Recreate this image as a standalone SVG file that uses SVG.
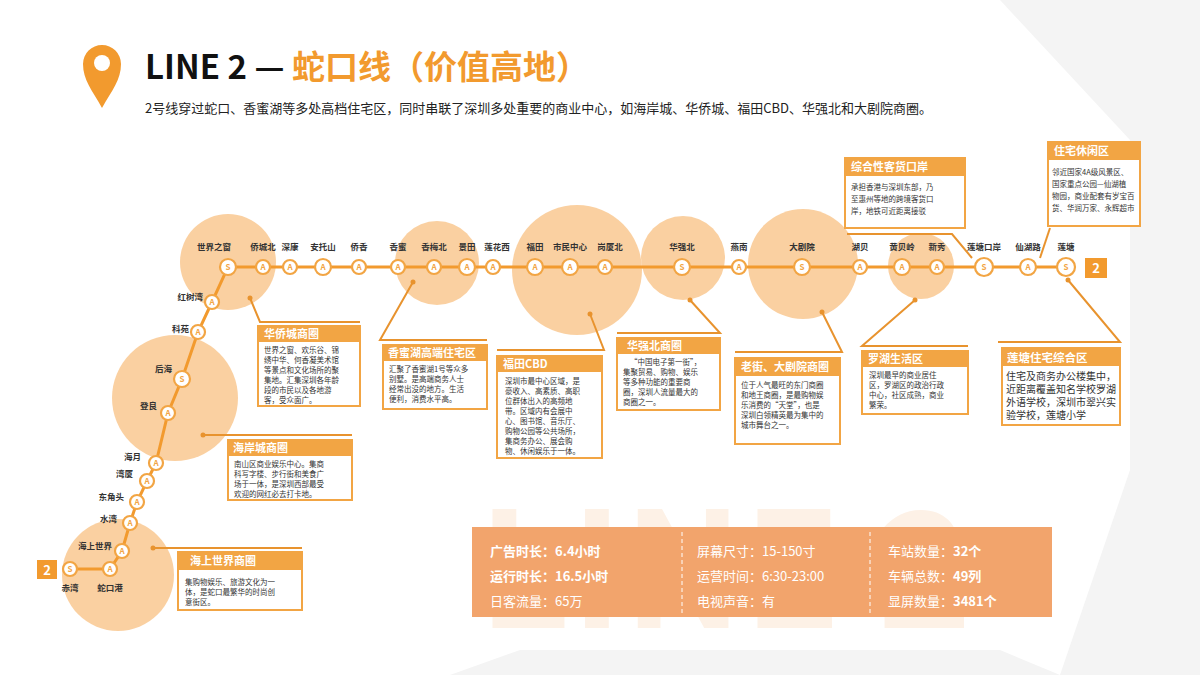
<svg xmlns="http://www.w3.org/2000/svg" width="1200" height="675" viewBox="0 0 1200 675">
<style>
text{font-family:"Noto Sans CJK SC","Liberation Sans",sans-serif}
.blob{fill:#f9c48a;opacity:.8}
.ln{stroke:#f29a2e;stroke-width:3;fill:none}
.ld{stroke:#e8932e;stroke-width:2;fill:none}
.st{fill:#fff;stroke:#f2a544;stroke-width:2.2}
.sl{font-size:8px;fill:#f2a544;font-weight:bold;text-anchor:middle}
.nm{font-size:8.5px;font-weight:bold;fill:#333;text-anchor:middle}
.nmr{font-size:8.5px;font-weight:bold;fill:#333;text-anchor:end}
.bx{fill:#fff;stroke:#f2a544;stroke-width:2}
.hd{fill:#f2a544}
.ht{font-size:11px;fill:#fff;font-weight:bold}
.bt{font-size:7.5px;fill:#333}
.sv{font-size:13px;fill:#fff}
.svb{font-size:13px;fill:#fff;font-weight:bold}
.dot{fill:#e8932e}
</style>
<rect width="1200" height="675" fill="#fff"/>
<g fill="#f4f4f4">
<polygon points="1000,0 1200,0 1200,140 1130,140"/>
<polygon points="1130,140 1200,140 1200,470 1130,470"/>
<polygon points="1130,470 1200,440 1200,675 1060,675"/>
<polygon points="450,675 520,650 1000,650 1060,675"/>
</g>
<text x="478" y="628" font-size="160" font-weight="bold" fill="#fdf1e6" font-family="Liberation Sans,sans-serif">LINE 2</text>
<g id="title">
<path d="M102,108 C92,90 83,80 83,64 A19,19 0 0 1 121,64 C121,80 112,90 102,108Z" fill="#f29a2e"/>
<circle cx="102" cy="63" r="8" fill="#fff"/>
<text x="145" y="79" font-size="33" font-weight="bold" fill="#111" font-family="Liberation Sans,sans-serif">LINE 2 — <tspan fill="#f29a2e" font-family="Noto Sans CJK SC,sans-serif">蛇口线（价值高地）</tspan></text>
<text x="145" y="113" font-size="13" fill="#222">2号线穿过蛇口、香蜜湖等多处高档住宅区，同时串联了深圳多处重要的商业中心，如海岸城、华侨城、福田CBD、华强北和大剧院商圈。</text>
</g>
<g id="blobs">
<circle class="blob" cx="228" cy="262" r="48"/>
<circle class="blob" cx="175" cy="398" r="63"/>
<circle class="blob" cx="118" cy="575" r="56"/>
<circle class="blob" cx="437" cy="263" r="42"/>
<circle class="blob" cx="577" cy="270" r="65"/>
<circle class="blob" cx="683" cy="258" r="42"/>
<circle class="blob" cx="803" cy="264" r="55"/>
<circle class="blob" cx="921" cy="266" r="33"/>
</g>
<g id="connectors">
<polyline class="ln" points="70,569 110,569 122,551 130,523 137,502 147,481 156,463 168,413 182,379 198,332 212,302 228,267 1066,267"/>
<circle class="dot" cx="250" cy="298" r="2.5"/><polyline class="ld" points="250,298 260,322 360,322"/>
<circle class="dot" cx="413" cy="282" r="2.5"/><polyline class="ld" points="413,282 380,340 487,340"/>
<circle class="dot" cx="590" cy="314" r="2.5"/><polyline class="ld" points="590,314 604,350 497,350"/>
<circle class="dot" cx="690" cy="300" r="2.5"/><polyline class="ld" points="690,300 720,333 617,333"/>
<circle class="dot" cx="822" cy="312" r="2.5"/><polyline class="ld" points="822,312 842,352 735,352"/>
<circle class="dot" cx="915" cy="300" r="2.5"/><polyline class="ld" points="915,300 862,346 968,346"/>
<circle class="dot" cx="1068" cy="280" r="2.5"/><polyline class="ld" points="1068,280 1120,342 998,342"/>
<circle class="dot" cx="203" cy="435" r="2.5"/><polyline class="ld" points="203,435 352,435"/>
<circle class="dot" cx="153" cy="548" r="2.5"/><polyline class="ld" points="153,548 302,548"/>
<polyline class="ld" points="847,234 952,234 972,258"/>
<polyline class="ld" points="1040,258 1050,228"/>
</g>
<g id="stations">
<g id="s-shijiezhichuang"><circle class="st" cx="228" cy="267" r="8"/><text class="sl" x="228" y="270">S</text><text class="nm" x="214" y="250">世界之窗</text></g>
<g id="s-qcb"><circle class="st" cx="263" cy="267" r="7"/><text class="sl" x="263" y="270">A</text><text class="nm" x="263" y="250">侨城北</text></g>
<g id="s-sk"><circle class="st" cx="290" cy="267" r="7"/><text class="sl" x="290" y="270">A</text><text class="nm" x="290" y="250">深康</text></g>
<g id="s-ats"><circle class="st" cx="323" cy="267" r="8"/><text class="sl" x="323" y="270">A</text><text class="nm" x="323" y="250">安托山</text></g>
<g id="s-qx"><circle class="st" cx="359" cy="267" r="7"/><text class="sl" x="359" y="270">A</text><text class="nm" x="359" y="250">侨香</text></g>
<g id="s-xm"><circle class="st" cx="398" cy="267" r="7"/><text class="sl" x="398" y="270">A</text><text class="nm" x="398" y="250">香蜜</text></g>
<g id="s-xmb"><circle class="st" cx="434" cy="267" r="7"/><text class="sl" x="434" y="270">A</text><text class="nm" x="434" y="250">香梅北</text></g>
<g id="s-jt"><circle class="st" cx="467" cy="267" r="8"/><text class="sl" x="467" y="270">A</text><text class="nm" x="467" y="250">景田</text></g>
<g id="s-lhx"><circle class="st" cx="493" cy="267" r="7"/><text class="sl" x="493" y="270">A</text><text class="nm" x="497" y="250">莲花西</text></g>
<g id="s-ft"><circle class="st" cx="535" cy="267" r="8"/><text class="sl" x="535" y="270">A</text><text class="nm" x="535" y="250">福田</text></g>
<g id="s-smzx"><circle class="st" cx="570" cy="267" r="8"/><text class="sl" x="570" y="270">A</text><text class="nm" x="570" y="250">市民中心</text></g>
<g id="s-gxb"><circle class="st" cx="605" cy="267" r="7"/><text class="sl" x="605" y="270">A</text><text class="nm" x="610" y="250">岗厦北</text></g>
<g id="s-hqb"><circle class="st" cx="682" cy="267" r="8"/><text class="sl" x="682" y="270">S</text><text class="nm" x="682" y="250">华强北</text></g>
<g id="s-yn"><circle class="st" cx="739" cy="267" r="7"/><text class="sl" x="739" y="270">A</text><text class="nm" x="739" y="250">燕南</text></g>
<g id="s-djy"><circle class="st" cx="802" cy="267" r="8"/><text class="sl" x="802" y="270">S</text><text class="nm" x="802" y="250">大剧院</text></g>
<g id="s-hb"><circle class="st" cx="860" cy="267" r="7"/><text class="sl" x="860" y="270">A</text><text class="nm" x="860" y="250">湖贝</text></g>
<g id="s-hbl"><circle class="st" cx="902" cy="267" r="8"/><text class="sl" x="902" y="270">A</text><text class="nm" x="902" y="250">黄贝岭</text></g>
<g id="s-xx"><circle class="st" cx="937" cy="267" r="7"/><text class="sl" x="937" y="270">A</text><text class="nm" x="937" y="250">新秀</text></g>
<g id="s-ltka"><circle class="st" cx="984" cy="267" r="9"/><text class="sl" x="984" y="270">S</text><text class="nm" x="984" y="250">莲塘口岸</text></g>
<g id="s-xhl"><circle class="st" cx="1028" cy="267" r="8"/><text class="sl" x="1028" y="270">A</text><text class="nm" x="1028" y="250">仙湖路</text></g>
<g id="s-lt"><circle class="st" cx="1066" cy="267" r="9"/><text class="sl" x="1066" y="270">S</text><text class="nm" x="1066" y="250">莲塘</text></g>
<g id="end-2a"><rect x="1085" y="258" width="22" height="20" fill="#f29a2e"/><text x="1096" y="273" font-size="13" font-weight="bold" fill="#fff" text-anchor="middle">2</text></g>
<g id="s-hsw"><circle class="st" cx="212" cy="302" r="7"/><text class="sl" x="212" y="305">A</text><text class="nmr" x="203" y="300">红树湾</text></g>
<g id="s-ky"><circle class="st" cx="198" cy="332" r="7"/><text class="sl" x="198" y="335">A</text><text class="nmr" x="189" y="332">科苑</text></g>
<g id="s-hh"><circle class="st" cx="182" cy="379" r="8"/><text class="sl" x="182" y="382">S</text><text class="nmr" x="172" y="372">后海</text></g>
<g id="s-dl"><circle class="st" cx="168" cy="413" r="7"/><text class="sl" x="168" y="416">A</text><text class="nmr" x="157" y="409">登良</text></g>
<g id="s-hy"><circle class="st" cx="156" cy="463" r="7"/><text class="sl" x="156" y="466">A</text><text class="nmr" x="141" y="460">海月</text></g>
<g id="s-wx"><circle class="st" cx="147" cy="481" r="7"/><text class="sl" x="147" y="484">A</text><text class="nmr" x="133" y="477">湾厦</text></g>
<g id="s-djt"><circle class="st" cx="137" cy="502" r="7"/><text class="sl" x="137" y="505">A</text><text class="nmr" x="124" y="500">东角头</text></g>
<g id="s-sw"><circle class="st" cx="130" cy="523" r="7"/><text class="sl" x="130" y="526">A</text><text class="nmr" x="117" y="522">水湾</text></g>
<g id="s-hssj"><circle class="st" cx="122" cy="551" r="7"/><text class="sl" x="122" y="554">A</text><text class="nmr" x="112" y="549">海上世界</text></g>
<g id="s-skg"><circle class="st" cx="110" cy="569" r="7"/><text class="sl" x="110" y="572">A</text><text class="nm" x="110" y="591">蛇口港</text></g>
<g id="s-cw"><circle class="st" cx="70" cy="569" r="7"/><text class="sl" x="70" y="572">S</text><text class="nm" x="70" y="591">赤湾</text></g>
<g id="end-2b"><rect x="37" y="560" width="20" height="19" fill="#f29a2e"/><text x="47" y="575" font-size="13" font-weight="bold" fill="#fff" text-anchor="middle">2</text></g>
</g>
<g id="box-hqc"><rect class="bx" x="258" y="326" width="102" height="80"/><rect class="hd" x="258" y="326" width="102" height="16"/><text class="ht" x="264" y="338">华侨城商圈</text>
<text class="bt"><tspan x="264" y="353">世界之窗、欢乐谷、锦</tspan><tspan x="264" y="363">绣中华、何香凝美术馆</tspan><tspan x="264" y="373">等景点和文化场所的聚</tspan><tspan x="264" y="383">集地。汇集深圳各年龄</tspan><tspan x="264" y="393">段的市民以及各地游</tspan><tspan x="264" y="403">客，受众面广。</tspan></text></g>
<g id="box-xmh"><rect class="bx" x="383" y="345" width="104" height="64"/><rect class="hd" x="383" y="345" width="104" height="16"/><text class="ht" x="388" y="357">香蜜湖高端住宅区</text>
<text class="bt"><tspan x="389" y="372">汇聚了香蜜湖1号等众多</tspan><tspan x="389" y="382">别墅。是高端商务人士</tspan><tspan x="389" y="392">经常出没的地方。生活</tspan><tspan x="389" y="402">便利，消费水平高。</tspan></text></g>
<g id="box-cbd"><rect class="bx" x="497" y="356" width="105" height="102"/><rect class="hd" x="497" y="356" width="105" height="16"/><text class="ht" x="503" y="368">福田CBD</text>
<text class="bt"><tspan x="505" y="384">深圳市最中心区域，是</tspan><tspan x="505" y="394">豪收入、高素质、高职</tspan><tspan x="505" y="404">位群体出入的高频地</tspan><tspan x="505" y="414">带。区域内有会展中</tspan><tspan x="505" y="424">心、图书馆、音乐厅、</tspan><tspan x="505" y="434">购物公园等公共场所，</tspan><tspan x="505" y="444">集商务办公、展会购</tspan><tspan x="505" y="454">物、休闲娱乐于一体。</tspan></text></g>
<g id="box-hqb"><rect class="bx" x="617" y="338" width="103" height="72"/><rect class="hd" x="617" y="338" width="103" height="16"/><text class="ht" x="627" y="350">华强北商圈</text>
<text class="bt"><tspan x="630" y="365">“中国电子第一街”，</tspan><tspan x="623" y="375">集聚贸易、购物、娱乐</tspan><tspan x="623" y="385">等多种功能的重要商</tspan><tspan x="623" y="395">圈，深圳人流量最大的</tspan><tspan x="623" y="405">商圈之一。</tspan></text></g>
<g id="box-lj"><rect class="bx" x="735" y="358" width="105" height="86"/><rect class="hd" x="735" y="358" width="105" height="18"/><text class="ht" x="741" y="371">老街、大剧院商圈</text>
<text class="bt"><tspan x="741" y="388">位于人气最旺的东门商圈</tspan><tspan x="741" y="398">和地王商圈，是最购物娱</tspan><tspan x="741" y="408">乐消费的“天堂”，也是</tspan><tspan x="741" y="418">深圳白领精英最为集中的</tspan><tspan x="741" y="428">城市舞台之一。</tspan></text></g>
<g id="box-lh"><rect class="bx" x="862" y="351" width="106" height="63"/><rect class="hd" x="862" y="351" width="106" height="16"/><text class="ht" x="868" y="363">罗湖生活区</text>
<text class="bt"><tspan x="869" y="378">深圳最早的商业居住</tspan><tspan x="869" y="388">区，罗湖区的政治行政</tspan><tspan x="869" y="398">中心，社区成熟，商业</tspan><tspan x="869" y="408">繁荣。</tspan></text></g>
<g id="box-ltzz"><rect class="bx" x="1002" y="348" width="118" height="77"/><rect class="hd" x="1002" y="348" width="118" height="18"/><text x="1007" y="362" font-size="11.5" font-weight="bold" fill="#fff">莲塘住宅综合区</text>
<text font-size="10" fill="#333"><tspan x="1006" y="380">住宅及商务办公楼集中，</tspan><tspan x="1006" y="393">近距离覆盖知名学校罗湖</tspan><tspan x="1006" y="406">外语学校，深圳市翠兴实</tspan><tspan x="1006" y="419">验学校，莲塘小学</tspan></text></g>
<g id="box-hac"><rect class="bx" x="228" y="440" width="124" height="60"/><rect class="hd" x="228" y="440" width="124" height="16"/><text class="ht" x="233" y="452">海岸城商圈</text>
<text class="bt"><tspan x="234" y="467">南山区商业娱乐中心。集商</tspan><tspan x="234" y="477">科写字楼、步行街和美食广</tspan><tspan x="234" y="487">场于一体，是深圳西部最受</tspan><tspan x="234" y="497">欢迎的网红必去打卡地。</tspan></text></g>
<g id="box-hssj"><rect class="bx" x="178" y="552" width="124" height="58"/><rect class="hd" x="178" y="552" width="124" height="18"/><text class="ht" x="190" y="565">海上世界商圈</text>
<text class="bt"><tspan x="185" y="585">集购物娱乐、旅游文化为一</tspan><tspan x="185" y="595">体，是蛇口最繁华的时尚创</tspan><tspan x="185" y="605">意街区。</tspan></text></g>
<g id="box-ka"><rect class="bx" x="845" y="158" width="120" height="70"/><rect class="hd" x="845" y="158" width="120" height="18"/><text class="ht" x="851" y="171">综合性客货口岸</text>
<text class="bt" font-size="8"><tspan x="851" y="190">承担香港与深圳东部，乃</tspan><tspan x="851" y="202">至惠州等地的跨境客货口</tspan><tspan x="851" y="214">岸，地铁可近距离接驳</tspan></text></g>
<g id="box-zzxx"><rect class="bx" x="1048" y="142" width="92" height="84"/><rect class="hd" x="1048" y="142" width="92" height="18"/><text class="ht" x="1054" y="155">住宅休闲区</text>
<text class="bt" font-size="8"><tspan x="1052" y="175">邻近国家4A级风景区、</tspan><tspan x="1052" y="187">国家重点公园—仙湖植</tspan><tspan x="1052" y="199">物园，商业配套有岁宝百</tspan><tspan x="1052" y="211">货、华润万家、永辉超市</tspan></text></g>
<g id="stats"><rect x="472" y="527" width="580" height="90" fill="#f2a46c"/>
<line x1="682" y1="532" x2="682" y2="614" stroke="#fff" stroke-width="1" stroke-dasharray="4,3"/>
<line x1="870" y1="532" x2="870" y2="614" stroke="#fff" stroke-width="1" stroke-dasharray="4,3"/>
<text class="svb" x="490" y="556">广告时长：6.4小时</text>
<text class="svb" x="490" y="581">运行时长：16.5小时</text>
<text class="sv" x="490" y="606">日客流量：65万</text>
<text class="sv" x="697" y="556">屏幕尺寸：15-150寸</text>
<text class="sv" x="697" y="581">运营时间：6:30-23:00</text>
<text class="sv" x="697" y="606">电视声音：有</text>
<text class="sv" x="888" y="556">车站数量：<tspan font-weight="bold">32个</tspan></text>
<text class="sv" x="888" y="581">车辆总数：<tspan font-weight="bold">49列</tspan></text>
<text class="sv" x="888" y="606">显屏数量：<tspan font-weight="bold">3481个</tspan></text></g>
</svg>
